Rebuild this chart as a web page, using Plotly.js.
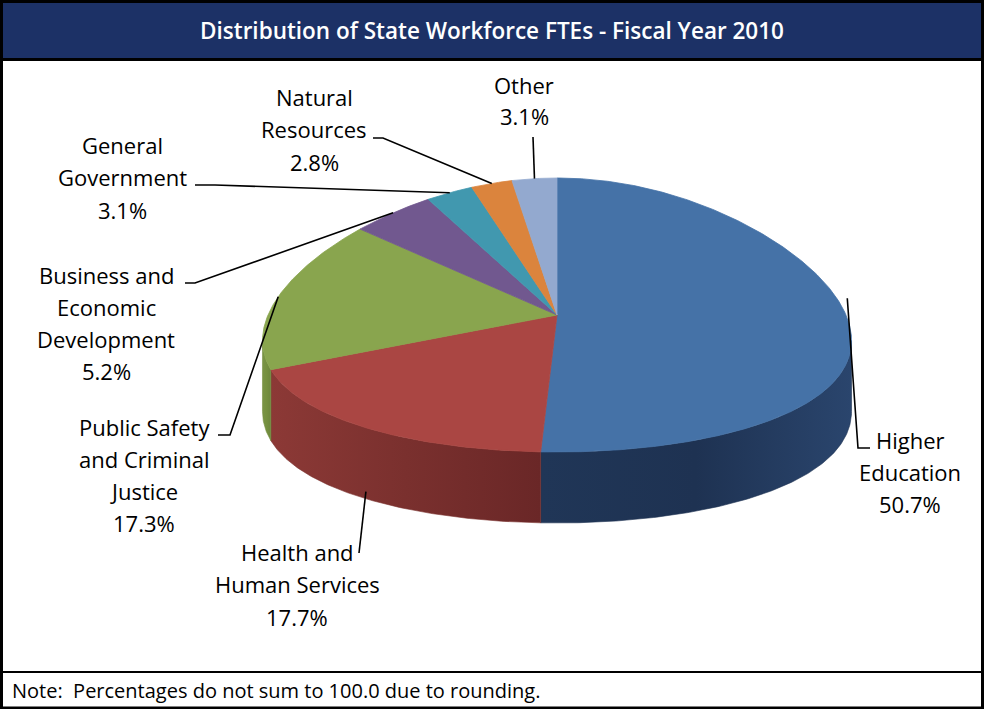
<!DOCTYPE html>
<html>
<head>
<meta charset="utf-8">
<script src="https://cdn.plot.ly/plotly-3.0.1.min.js"></script>
<style>html,body{margin:0;padding:0;background:#fff;}#chart{width:984px;height:709px;}</style>
</head>
<body>
<div id="chart"></div>
<script>
// ---------- DATA ----------
const categories = ['Higher Education','Health and Human Services','Public Safety and Criminal Justice','Business and Economic Development','General Government','Natural Resources','Other'];
const values = [50.7, 17.7, 17.3, 5.2, 3.1, 2.8, 3.1];
const labelLines = [['Higher','Education'],['Health and','Human Services'],['Public Safety','and Criminal','Justice'],['Business and','Economic','Development'],['General','Government'],['Natural','Resources'],['Other']];
const titleText = 'Distribution of State Workforce FTEs - Fiscal Year 2010';
const noteText = 'Note:  Percentages do not sum to 100.0 due to rounding.';

// ---------- STYLE / LAYOUT CONSTANTS ----------
const topColors = ['#4572A7','#AA4643','#89A54E','#71588F','#4198AF','#DB843D','#93A9CF'];
const sideColors = [['#203657','#1E3252','#2A456D'],['#8C3936','#7A302E','#6A2727'],['#7A9446','#75903F','#6C863D'],['#5A4672','#5A4672','#5A4672'],['#337A8C','#337A8C','#337A8C'],['#B06A30','#B06A30','#B06A30'],['#7587A6','#7587A6','#7587A6']];
const geo = {cx:557, cy:315, rx:289, ry:137, depth:71, persp:0.2};
const labelPos = [
  {x:910, y:448, dy:32, lead:[[870,448],[858,448]], side:0, lift:20},
  {x:297, y:560, dy:32.5, lead:[[359,553]], side:0.9, lift:0},
  {x:144, y:435, dy:32.3, lead:[[218,435],[230,435]], side:0, lift:0},
  {x:106, y:283, dy:32.3, lead:[[185,283],[195,283]], side:0, lift:0},
  {x:122, y:153, dy:32.5, lead:[[195,185],[215,185]], side:0, lift:0},
  {x:314, y:105, dy:32.5, lead:[[373,138],[383,138]], side:0, lift:0},
  {x:524, y:93, dy:31, lead:[[533,137]], side:0, lift:0}
];
const FONT = 'Open Sans, Noto Sans, sans-serif';

// ---------- GEOMETRY ----------
function pt(theta){
  const s = Math.sin(theta), c = Math.cos(theta);
  const f = 1 - geo.persp * c;
  return [geo.cx + geo.rx * s * f, geo.cy - geo.ry * c];
}
function arc(a1, a2){
  const n = Math.max(2, Math.ceil(Math.abs(a2 - a1) / (Math.PI/360)));
  const pts = [];
  for (let i = 0; i <= n; i++) pts.push(pt(a1 + (a2 - a1) * i / n));
  return pts;
}
const p = geo.persp;
const cExt = (1 - Math.sqrt(1 + 8*p*p)) / (4*p);
const thR = Math.acos(cExt), thL = 2*Math.PI - thR;

const total = values.reduce((a,b)=>a+b,0);
const angles = [];
let acc = 0;
values.forEach(v => { const a1 = acc/total*2*Math.PI; acc += v; angles.push([a1, acc/total*2*Math.PI]); });

const traces = [];
// side walls (front)
angles.forEach(([a1,a2], i) => {
  const s1 = Math.max(a1, thR), s2 = Math.min(a2, thL);
  if (s2 <= s1) return;
  const top = arc(s1, s2);
  const bot = top.slice().reverse().map(q => [q[0], q[1] + geo.depth]);
  const poly = top.concat(bot); poly.push(top[0]);
  const sc = sideColors[i];
  traces.push({type:'scatter', mode:'lines', x:poly.map(q=>q[0]), y:poly.map(q=>q[1]),
    fill:'toself', fillcolor:sc[1],
    fillgradient:{type:'horizontal', colorscale:[[0,sc[0]],[0.5,sc[1]],[1,sc[2]]]},
    line:{width:0.6, color:sc[1]}, hoverinfo:'skip', showlegend:false});
});
// top faces
angles.forEach(([a1,a2], i) => {
  const poly = [[geo.cx, geo.cy]].concat(arc(a1, a2)); poly.push([geo.cx, geo.cy]);
  traces.push({type:'scatter', mode:'lines', x:poly.map(q=>q[0]), y:poly.map(q=>q[1]),
    fill:'toself', fillcolor:topColors[i], line:{width:0.8, color:topColors[i]},
    hoverinfo:'skip', showlegend:false, name:categories[i]});
});
// leader lines + labels
const annotations = [];
angles.forEach(([a1,a2], i) => {
  const lp = labelPos[i];
  const m = pt((a1+a2)/2);
  m[1] += lp.side * geo.depth - lp.lift;
  const path = lp.lead.concat([m]);
  traces.push({type:'scatter', mode:'lines', x:path.map(q=>q[0]), y:path.map(q=>q[1]),
    line:{color:'#000', width:1.6}, hoverinfo:'skip', showlegend:false});
  const lines = labelLines[i].concat([values[i].toFixed(1) + '%']);
  lines.forEach((t, k) => {
    annotations.push({x:lp.x, y:lp.y + k*lp.dy - 8.5, xref:'x', yref:'y', text:t, showarrow:false,
      xanchor:'center', yanchor:'middle', font:{family:FONT, size:22, color:'#000'}});
  });
});
annotations.push({x:10, y:690, xref:'x', yref:'y', text:noteText, showarrow:false, xanchor:'left', yanchor:'middle',
  font:{family:FONT, size:20, color:'#000'}});

const shapes = [
  {type:'rect', xref:'x', yref:'y', x0:0, x1:984, y0:0, y1:59, fillcolor:'#1C3166', line:{width:0}, layer:'below'},
  {type:'line', xref:'x', yref:'y', x0:0, x1:984, y0:59.5, y1:59.5, line:{color:'#000', width:3}},
  {type:'line', xref:'x', yref:'y', x0:0, x1:984, y0:672, y1:672, line:{color:'#000', width:2}},
  {type:'rect', xref:'x', yref:'y', x0:1.5, x1:982.5, y0:1.5, y1:708, line:{color:'#000', width:3}, fillcolor:'rgba(0,0,0,0)'}
];

const layout = {
  width:984, height:709, margin:{l:0,r:0,t:0,b:0,pad:0},
  paper_bgcolor:'#fff', plot_bgcolor:'#fff', showlegend:false,
  title:{text:titleText, x:0.5, xanchor:'center', xref:'container', y:1 - 31.5/709, yanchor:'middle', yref:'container',
    font:{family:FONT, size:22.5, color:'#fff', weight:600}},
  xaxis:{range:[0,984], visible:false, fixedrange:true},
  yaxis:{range:[709,0], visible:false, fixedrange:true},
  shapes:shapes, annotations:annotations
};
Plotly.newPlot('chart', traces, layout, {staticPlot:true, displayModeBar:false});
</script>
</body>
</html>
